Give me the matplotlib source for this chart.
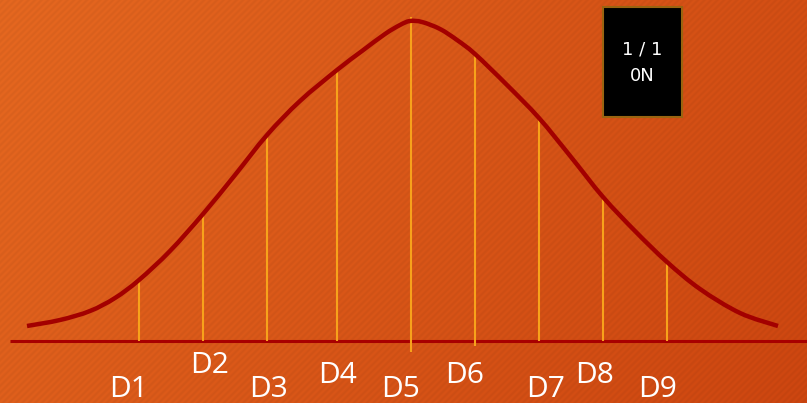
import matplotlib

matplotlib.use("Agg")

import matplotlib.pyplot as plt
import numpy as np
from matplotlib.patches import PathPatch, Rectangle
from matplotlib.path import Path

W, H = 807, 403

# bell curve outline, in slide pixel coordinates
curve_x = [27, 60, 90, 115, 139, 170, 203, 235, 267, 300, 337, 362, 385, 400,
           410, 422, 440, 457, 475, 507, 539, 571, 603, 635, 667, 700, 740, 778]
curve_y = [326, 320, 311, 298, 280, 251, 214, 175, 135, 101, 70, 51, 34, 25,
           21, 22, 29, 40, 54, 85, 118, 157, 197, 231, 262, 289, 313, 326]

# decile markers
decile_labels = ["D1", "D2", "D3", "D4", "D5", "D6", "D7", "D8", "D9"]
decile_x = [139, 203, 267, 337, 411, 475, 539, 603, 667]
decile_top = [279, 213, 134, 70, 17, 54, 118, 196, 262]
decile_bottom = [341, 341, 341, 341, 352, 346, 341, 341, 341]
label_x = [129, 210, 269, 338, 401, 465, 546, 594, 658]
label_y = [397, 373, 397, 383, 397, 383, 397, 383, 397]

baseline_y = 341


def smooth_path(xs, ys):
    """Cubic Bezier path through the points (Catmull-Rom tangents)."""
    p = np.column_stack([xs, ys]).astype(float)
    verts = [p[0]]
    codes = [Path.MOVETO]
    for i in range(len(p) - 1):
        p0 = p[i - 1] if i > 0 else p[i]
        p3 = p[i + 2] if i + 2 < len(p) else p[i + 1]
        c1 = p[i] + (p[i + 1] - p0) / 6
        c2 = p[i + 1] - (p3 - p[i]) / 6
        verts += [c1, c2, p[i + 1]]
        codes += [Path.CURVE4] * 3
    return Path(verts, codes)


fig = plt.figure(figsize=(W / 100, H / 100), dpi=100)
ax = fig.add_axes([0, 0, 1, 1])
ax.set_xlim(0, W)
ax.set_ylim(H, 0)
ax.axis("off")

# orange slide background: diagonal gradient with fine "/" stripes
yy, xx = np.mgrid[0:H, 0:W]
t = (xx / W * 0.75 + yy / H * 0.25)[..., None]
c0 = np.array([230, 104, 32]) / 255
c1 = np.array([206, 70, 16]) / 255
bg = c0 * (1 - t) + c1 * t
stripes = 0.5 + 0.5 * np.sin((xx + yy) * 2 * np.pi / 6.5)
bg = bg * (1 - 0.045 * stripes[..., None])
ax.imshow(np.clip(bg, 0, 1), extent=(0, W, H, 0), aspect="auto", zorder=0)

# axis line
ax.plot([10, W], [baseline_y, baseline_y], color="#a80000", lw=2.2, zorder=2,
        solid_capstyle="butt")

# decile verticals
for x, top, bottom in zip(decile_x, decile_top, decile_bottom):
    ax.plot([x, x], [top, bottom], color="#f7a21b", lw=1.5, zorder=3,
            solid_capstyle="butt")

# the curve
ax.add_patch(PathPatch(smooth_path(curve_x, curve_y), facecolor="none",
                       edgecolor="#a30000", lw=3.2, capstyle="butt", zorder=4))

for lab, x, y in zip(decile_labels, label_x, label_y):
    ax.text(x, y, lab, color="white", fontsize=21.5, family="Open Sans",
            ha="center", va="baseline", zorder=5)

# page counter box
ax.add_patch(Rectangle((603, 7), 79, 110, facecolor="black",
                       edgecolor="#9a6410", lw=1.5, zorder=5))
ax.text(642, 55, "1 / 1", color="white", fontsize=13, family="DejaVu Sans",
        ha="center", va="baseline", zorder=6)
ax.text(642, 81, "0N", color="white", fontsize=13, family="DejaVu Sans",
        ha="center", va="baseline", zorder=6)

fig.savefig("out.png", dpi=100)
